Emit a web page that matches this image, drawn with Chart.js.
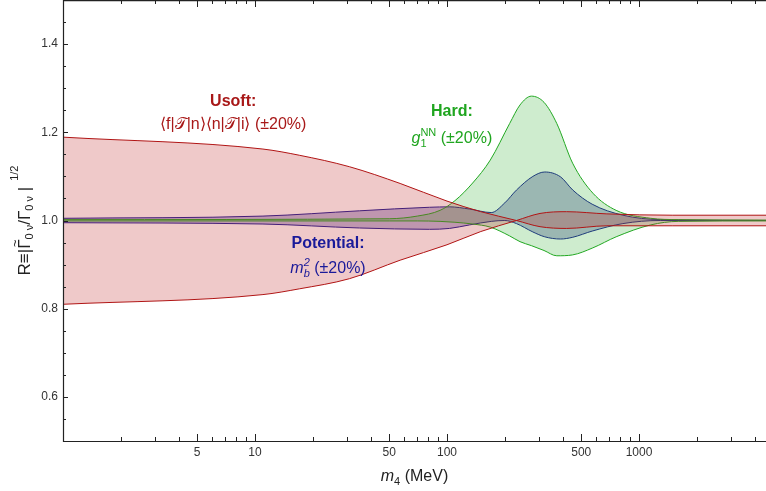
<!DOCTYPE html>
<html>
<head>
<meta charset="utf-8">
<script src="https://cdn.jsdelivr.net/npm/chart.js@4"></script>
<style>
  html, body { margin: 0; padding: 0; background: #fff; overflow: hidden; }
</style>
</head>
<body>
<canvas id="myChart" width="766" height="491"></canvas>
<script>
// values, m4 in MeV
const mUsoft   = [1, 11, 17, 31, 57, 100, 150, 230, 305, 420, 680, 1500, 4600];
const usoftUp  = [1.189, 1.162, 1.148, 1.122, 1.084, 1.044, 1.02, 1.0, 0.986, 0.982, 0.988, 0.988, 0.988];
const usoftLow = [0.81, 0.832, 0.845, 0.868, 0.91, 0.945, 0.975, 1.0, 1.016, 1.02, 1.015, 1.012, 1.012];

const mHard   = [1, 50, 70, 92, 110, 136, 168, 212, 240, 275, 320, 373, 451, 575, 760, 1150, 1600, 4600];
const hardUp  = [1.002, 1.004, 1.01, 1.023, 1.045, 1.085, 1.137, 1.22, 1.262, 1.282, 1.268, 1.22, 1.13, 1.062, 1.023, 1.005, 1.002, 1.001];
const hardLow = [0.999, 0.999, 0.999, 0.998, 0.996, 0.992, 0.985, 0.965, 0.952, 0.943, 0.932, 0.92, 0.922, 0.938, 0.963, 0.99, 0.998, 0.999];

const mPot   = [1, 11, 35, 81, 103, 131, 170, 200, 230, 280, 323, 390, 452, 570, 824, 1290, 4600];
const potUp  = [1.005, 1.01, 1.022, 1.03, 1.031, 1.026, 1.018, 1.04, 1.069, 1.1, 1.11, 1.099, 1.069, 1.037, 1.012, 1.002, 1.0];
const potLow = [0.995, 0.992, 0.983, 0.98, 0.982, 0.99, 0.998, 1.0, 0.993, 0.974, 0.963, 0.958, 0.962, 0.976, 0.993, 1.0, 1.0];

const xLabels = [5, 10, 50, 100, 500, 1000];
const yLabels = [0.6, 0.8, 1.0, 1.2, 1.4];

const FONT = "'Liberation Sans', Arial, sans-serif";

function pts(xs, ys) {
  return xs.map((x, i) => ({x: x, y: ys[i]}));
}

function band(xs, up, low, line, fill) {
  return [
    {data: pts(xs, up), borderColor: line, borderWidth: 1, pointRadius: 0, fill: false},
    {data: pts(xs, low), borderColor: line, borderWidth: 1, pointRadius: 0, fill: '-1', backgroundColor: fill}
  ];
}

// draws a line of mixed text; parts are {t,size,bold,italic,dy,accent} or {sub,sup,size,italic}
function drawRich(ctx, parts, cx, base, color) {
  const f = (p, s) => (p.italic ? 'italic ' : '') + (p.bold ? 'bold ' : '') + s + 'px ' + FONT;
  let widths = parts.map(p => {
    ctx.font = f(p, p.size);
    if (p.t !== undefined) return ctx.measureText(p.t).width;
    return Math.max(ctx.measureText(p.sub || '').width, ctx.measureText(p.sup || '').width);
  });
  let x = cx - widths.reduce((a, b) => a + b, 0) / 2;
  ctx.fillStyle = color;
  ctx.textBaseline = 'alphabetic';
  ctx.textAlign = 'left';
  parts.forEach((p, i) => {
    ctx.font = f(p, p.size);
    if (p.t !== undefined) {
      ctx.fillText(p.t, x, base + (p.dy || 0));
      if (p.accent) {
        ctx.font = f({}, 13);
        ctx.textAlign = 'center';
        ctx.fillText(p.accent, x + widths[i] / 2 + 1, base - p.size * 0.62);
        ctx.textAlign = 'left';
      }
    } else {
      if (p.sub) ctx.fillText(p.sub, x, base + 4);
      if (p.sup) ctx.fillText(p.sup, x, base - 7);
    }
    x += widths[i];
  });
}

const frame = {
  id: 'frame',
  afterDraw(chart) {
    const {ctx, chartArea: a, scales: {x, y}} = chart;
    ctx.save();
    ctx.strokeStyle = '#222';
    ctx.lineWidth = 1.2;
    ctx.beginPath();
    ctx.moveTo(a.right + 5, a.top + 0.6);
    ctx.lineTo(a.left + 0.5, a.top + 0.6);
    ctx.lineTo(a.left + 0.5, a.bottom + 0.5);
    ctx.lineTo(a.right + 5, a.bottom + 0.5);
    ctx.stroke();

    ctx.lineWidth = 1;
    ctx.beginPath();
    for (let d = 1; d <= 1000; d *= 10) {
      for (let k = 1; k <= 9; k++) {
        const v = k * d;
        if (v > x.max) continue;
        const len = (k === 1 || k === 5) ? 7 : 4;
        const px = Math.round(x.getPixelForValue(v)) + 0.5;
        ctx.moveTo(px, a.bottom); ctx.lineTo(px, a.bottom - len);
        ctx.moveTo(px, a.top); ctx.lineTo(px, a.top + len);
      }
    }
    for (let i = 10; i < 30; i++) {
      const v = i * 0.05;
      const len = (i % 4 === 0) ? 5 : 3;
      const py = Math.round(y.getPixelForValue(v)) + 0.5;
      ctx.moveTo(a.left, py); ctx.lineTo(a.left + len, py);
    }
    ctx.stroke();

    // axis titles
    drawRich(ctx, [
      {t: 'm', size: 16, italic: true},
      {t: '4', size: 11, dy: 4},
      {t: ' (MeV)', size: 16}
    ], a.left + (766 - a.left) / 2, 481, '#222');

    ctx.save();
    ctx.translate(30, y.getPixelForValue(1.0));
    ctx.rotate(-Math.PI / 2);
    drawRich(ctx, [
      {t: 'R\u2261|', size: 17},
      {t: '\u0393', size: 17, accent: '~'},
      {t: '0 \u03bd', size: 11, dy: 3},
      {t: '/\u0393', size: 17},
      {t: '0 \u03bd', size: 11, dy: 3},
      {t: ' |', size: 17},
      {t: '  1/2', size: 11, dy: -12}
    ], 0, 0, '#222');
    ctx.restore();

    // band annotations
    const red = '#a81818', green = '#1fa51f', blue = '#1a1a9a';
    const ux = x.getPixelForValue(7.7);
    drawRich(ctx, [{t: 'Usoft:', size: 16, bold: true}], ux, y.getPixelForValue(1.273) + 6, red);
    drawRich(ctx, [
      {t: '\u27e8f|', size: 16},
      {t: '\ud835\udcaf', size: 16},
      {t: '|n\u27e9\u27e8n|', size: 16},
      {t: '\ud835\udcaf', size: 16},
      {t: '|i\u27e9 (\u00b120%)', size: 16}
    ], ux, y.getPixelForValue(1.221) + 6, red);

    const hx = x.getPixelForValue(106);
    drawRich(ctx, [{t: 'Hard:', size: 16, bold: true}], hx, y.getPixelForValue(1.25) + 6, green);
    drawRich(ctx, [
      {t: 'g', size: 16, italic: true},
      {sub: '1', sup: 'NN', size: 11},
      {t: ' (\u00b120%)', size: 16}
    ], hx, y.getPixelForValue(1.19) + 6, green);

    const px = x.getPixelForValue(24);
    drawRich(ctx, [{t: 'Potential:', size: 16, bold: true}], px, y.getPixelForValue(0.951) + 6, blue);
    drawRich(ctx, [
      {t: 'm', size: 16, italic: true},
      {sub: 'b', sup: '2', size: 11, italic: true},
      {t: ' (\u00b120%)', size: 16}
    ], px, y.getPixelForValue(0.894) + 6, blue);
    ctx.restore();
  }
};

const ctx = document.getElementById('myChart').getContext('2d');

let myChart = new Chart(ctx, {
  type: 'scatter',
  data: {
    datasets: [
      ...band(mUsoft, usoftUp, usoftLow, '#b01414', 'rgba(190, 40, 40, 0.25)'),
      ...band(mHard, hardUp, hardLow, '#22a822', 'rgba(30, 170, 30, 0.22)'),
      ...band(mPot, potUp, potLow, '#1c1c94', 'rgba(40, 30, 140, 0.3)')
    ]
  },
  options: {
    responsive: false,
    animation: false,
    devicePixelRatio: 1,
    showLine: true,
    elements: {line: {cubicInterpolationMode: 'monotone'}},
    layout: {padding: 0},
    plugins: {legend: {display: false}, tooltip: {enabled: false}},
    scales: {
      x: {
        type: 'logarithmic',
        min: 1,
        max: 4585,
        afterBuildTicks: s => { s.ticks = xLabels.map(v => ({value: v})); },
        ticks: {
          callback: v => String(v),
          font: {family: FONT, size: 12},
          color: '#333',
          padding: 4,
          maxRotation: 0,
          autoSkip: false
        },
        grid: {display: false, drawTicks: false},
        border: {display: false},
        afterFit: s => { s.height = 50; s.paddingLeft = 0; s.paddingRight = 0; }
      },
      y: {
        min: 0.5,
        max: 1.5,
        afterBuildTicks: s => { s.ticks = yLabels.map(v => ({value: v})); },
        ticks: {
          callback: v => v.toFixed(1),
          font: {family: FONT, size: 12},
          color: '#333',
          padding: 5
        },
        grid: {display: false, drawTicks: false},
        border: {display: false},
        afterFit: s => { s.width = 63; s.paddingTop = 0; s.paddingBottom = 0; }
      }
    }
  },
  plugins: [frame]
});
</script>
</body>
</html>
